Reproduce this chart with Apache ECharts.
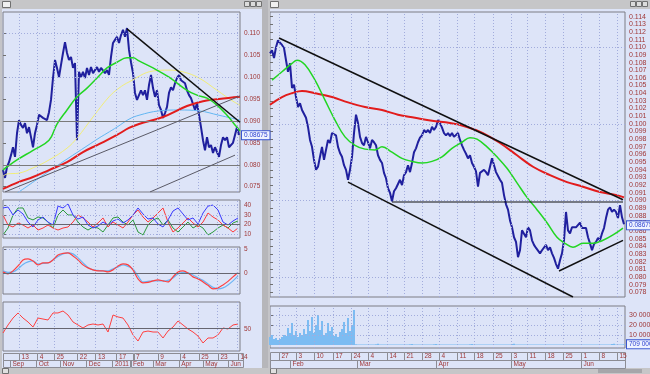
<!DOCTYPE html>
<html><head><meta charset="utf-8">
<script src="https://cdn.jsdelivr.net/npm/echarts@6/dist/echarts.min.js"></script>
<style>html,body{margin:0;padding:0;background:#dde4f8;overflow:hidden}#c{width:650px;height:374px}</style>
</head><body><div id="c"></div>
<script>
// ---------------- DATA ----------------
// Left window (daily), x = sample index (one sample per ~1.7 trading days)
const leftClose = [0.0788,0.0770,0.0795,0.0806,0.0822,0.0840,0.0818,0.0872,0.0902,0.0891,
 0.0884,0.0895,0.0872,0.0886,0.0863,0.0840,0.0872,0.0891,0.0914,0.0918,
 0.0907,0.0909,0.0902,0.0920,0.0948,0.0998,0.1039,0.1021,0.1000,0.1028,
 0.1055,0.1080,0.1055,0.1039,0.1046,0.1021,0.1032,0.0856,0.1012,0.1000,
 0.1012,0.0998,0.1021,0.1005,0.1023,0.1009,0.1016,0.1023,0.1012,0.1021,
 0.1023,0.1009,0.1016,0.1005,0.1046,0.1078,0.1085,0.1092,0.1078,0.1096,
 0.1108,0.1092,0.1112,0.1062,0.1034,0.1009,0.0964,0.0948,0.0952,0.0970,
 0.0959,0.0970,0.0948,0.0982,0.1005,0.0975,0.0955,0.0970,0.0936,0.0925,
 0.0907,0.0918,0.0932,0.0964,0.0977,0.0970,0.0986,0.0998,0.1005,0.0993,
 0.0989,0.0986,0.0970,0.0959,0.0952,0.0948,0.0925,0.0941,0.0914,0.0886,
 0.0856,0.0833,0.0863,0.0840,0.0845,0.0827,0.0840,0.0829,0.0818,0.0845,
 0.0863,0.0856,0.0863,0.0840,0.0838,0.0850,0.0868,0.0886,0.0868];
const leftMAGreen = [[0,0.0788],[2,0.0795],[7,0.0811],[15,0.0833],[23,0.0856],[27,0.0893],[32,0.0925],[37,0.0955],[42,0.0975],[47,0.0998],[52,0.1021],[57,0.1034],[62,0.1044],[65,0.1044],[68,0.1037],[75,0.1021],[83,0.1000],[92,0.0970],[97,0.0959],[102,0.0952],[107,0.0936],[112,0.0913],[116,0.0891],[118.5,0.0877]];
const leftMAYellow = [[0,0.0774],[2,0.0779],[8,0.0781],[15,0.0793],[23,0.0811],[32,0.0838],[37,0.0861],[45,0.0909],[53,0.0955],[58,0.0975],[63,0.0989],[75,0.1014],[83,0.1016],[90,0.1012],[98,0.0998],[107,0.0970],[115,0.0945],[118.5,0.0936]];
const leftMACyan = [[7,0.0735],[20,0.0776],[32,0.0813],[42,0.0843],[48,0.0861],[52,0.0872],[57,0.0886],[63,0.0904],[68,0.0913],[78,0.0923],[88,0.0925],[98,0.0923],[108,0.0913],[118.5,0.0902]];
const leftMARed = [[0,0.0745],[8,0.0761],[15,0.0772],[23,0.0788],[32,0.0806],[40,0.0829],[48,0.0847],[57,0.0868],[63,0.0884],[68,0.0893],[80,0.0909],[92,0.0934],[100,0.0945],[108,0.0950],[118.5,0.0955]];
const leftTrendDown = [[62,0.1110],[118.5,0.0897]];
const leftTrendUp1 = [[1,0.0738],[118.5,0.0957]];
const leftTrendUp2 = [[73.5,0.0738],[116,0.0822]];
const leftLevels = [0.0901, 0.0760, 0.0755];
const lastClose = 0.08675;

// Left indicators: one value every 2.5 samples
const indStep = 2.5;
const adxBlue = [37.6,38.6,30.2,35.5,31.3,22.8,17.6,25.0,28.1,22.8,19.7,39.6,37.6,41.8,30.2,26.0,28.1,19.7,16.5,18.6,22.8,19.7,23.9,26.0,21.8,25.0,30.2,37.6,31.3,26.0,27.1,20.7,17.6,25.0,34.4,37.6,31.3,25.0,27.1,20.7,32.3,39.6,40.7,35.5,22.8,19.7,23.9,27.1];
const adxRed = [30.2,19.7,17.6,21.8,19.7,16.5,19.7,14.4,16.5,19.7,16.5,14.4,16.5,17.6,22.8,30.2,27.1,22.8,17.6,21.8,27.1,17.6,22.8,19.7,16.5,22.8,30.2,35.5,28.1,22.8,27.1,32.3,37.6,22.8,12.3,16.5,21.8,27.1,21.8,17.6,22.8,32.3,28.1,25.0,19.7,16.5,12.3,16.5];
const adxGreen = [9.2,16.5,30.2,37.6,37.6,27.1,25.0,28.1,27.1,22.8,16.5,30.2,35.5,30.2,30.2,22.8,17.6,14.4,17.6,16.5,12.3,19.7,27.1,28.1,22.8,19.7,25.0,12.3,9.2,19.7,25.0,27.1,19.7,25.0,16.5,12.3,17.6,22.8,16.5,19.7,16.5,9.2,12.3,16.5,19.7,16.5,21.8,23.9];
const macdMain = [0.21,-0.21,0.42,1.46,2.71,2.92,2.50,1.67,2.08,2.08,2.71,3.75,4.06,4.17,3.54,2.71,1.67,1.04,0.63,0.42,0.42,0.21,0.63,1.46,1.88,1.67,0.63,-1.25,-2.08,-1.98,-1.67,-1.46,-1.67,-1.88,-0.83,0.21,0.42,0,-0.83,-1.25,-1.88,-2.60,-3.33,-3.13,-2.50,-1.77,-0.83,0.10];
const macdSignal = [0.42,0.10,0.21,0.83,1.77,2.29,2.50,1.88,1.98,2.08,2.71,3.44,3.96,4.17,3.96,3.13,2.08,1.15,0.63,0.52,0.42,0.42,0.83,1.25,1.67,1.35,0.83,-0.63,-1.88,-1.77,-1.67,-1.67,-1.67,-1.56,-1.04,-0.21,0.10,0,-0.42,-1.04,-1.56,-2.29,-3.02,-3.33,-3.13,-2.50,-1.67,-0.63];
const rsi = [45.2,54.2,62.0,67.7,62.0,57.6,51.9,62.0,60.9,59.8,67.7,67.7,69.9,65.4,57.6,54.2,50.8,54.2,55.3,54.2,55.3,46.3,65.4,63.2,62.0,54.2,43.0,36.2,46.3,47.4,46.3,46.3,39.6,47.4,51.9,58.7,54.2,49.7,46.3,41.8,34.0,39.6,39.6,43.0,50.8,49.7,54.2,55.3];

// Left date axis
const leftWeekPos = [8,17,25.5,37,46,56.5,65,77,88,97.5,107,117];
const leftWeekLabels = ['13','4','25','22','13','17','7','9','4','25','23','14'];
const leftMonthPos = [3.5,16.5,28.5,41.5,54.5,63.5,74.5,87.5,99.5,112];
const leftMonthLabels = ['Sep','Oct','Nov','Dec','2011','Feb','Mar','Apr','May','Jun'];
const leftPriceTicks = [0.075,0.080,0.085,0.090,0.095,0.100,0.105,0.110];
const adxTicks = [10,20,30,40];
const macdTicks = [0,5];
const rsiTicks = [50];

// Right window (intraday), x = sample index
const rightClose = [0.1092,0.1096,0.1086,0.1100,0.1109,0.1107,0.1103,0.1099,0.1083,0.1068,
 0.1079,0.1047,0.1051,0.1035,0.1022,0.1027,0.1018,0.1018,0.1008,0.0996,
 0.0979,0.0970,0.0953,0.0940,0.0944,0.0957,0.0970,0.0953,0.0955,0.0979,
 0.0975,0.0988,0.0989,0.0985,0.0970,0.0962,0.0957,0.0946,0.0940,0.0927,
 0.0940,0.0957,0.0988,0.1012,0.1001,0.0983,0.0975,0.0972,0.0983,0.0976,
 0.0968,0.0979,0.0976,0.0972,0.0959,0.0953,0.0949,0.0936,0.0929,0.0916,
 0.0910,0.0899,0.0912,0.0916,0.0918,0.0927,0.0920,0.0933,0.0937,0.0946,
 0.0937,0.0949,0.0963,0.0968,0.0976,0.0982,0.0985,0.0992,0.0989,0.0992,
 0.0988,0.0996,0.0992,0.0996,0.1005,0.1001,0.0995,0.0988,0.0985,0.0988,
 0.0984,0.0988,0.0983,0.0985,0.0988,0.0979,0.0972,0.0966,0.0961,0.0955,
 0.0959,0.0949,0.0944,0.0938,0.0918,0.0936,0.0937,0.0940,0.0937,0.0933,
 0.0944,0.0955,0.0953,0.0937,0.0936,0.0927,0.0923,0.0907,0.0895,0.0888,
 0.0874,0.0865,0.0852,0.0846,0.0826,0.0835,0.0861,0.0861,0.0852,0.0865,
 0.0861,0.0848,0.0842,0.0838,0.0839,0.0831,0.0835,0.0833,0.0842,0.0835,
 0.0839,0.0831,0.0825,0.0817,0.0811,0.0822,0.0831,0.0848,0.0885,0.0861,
 0.0857,0.0865,0.0867,0.0865,0.0867,0.0871,0.0864,0.0865,0.0864,0.0852,
 0.0844,0.0835,0.0843,0.0846,0.0851,0.0848,0.0857,0.0864,0.0877,0.0888,
 0.0891,0.0885,0.0888,0.0885,0.0877,0.0894,0.0878,0.0869];
const rightMAGreen = [[1,0.1057],[6,0.1068],[11,0.1079],[13.5,0.1083],[17.5,0.1077],[22.5,0.1057],[27.5,0.1031],[32.5,0.1005],[37.5,0.0983],[42.5,0.0972],[47.5,0.0967],[52.5,0.0966],[56,0.0970],[61,0.0963],[66,0.0955],[71,0.0951],[76,0.0949],[81,0.0951],[86,0.0957],[91,0.0968],[96,0.0976],[100,0.0982],[103.5,0.0980],[108.5,0.0970],[113.5,0.0957],[118.5,0.0942],[123.5,0.0923],[128.5,0.0904],[133.5,0.0888],[138.5,0.0871],[143.5,0.0852],[147.5,0.0844],[151.5,0.0839],[156.5,0.0844],[161.5,0.0844],[166.5,0.0848],[171.5,0.0855],[176.5,0.0864]];
const rightMARed = [[0,0.1025],[6,0.1035],[11,0.1040],[16,0.1043],[22.5,0.1040],[31,0.1035],[39,0.1028],[47.5,0.1022],[56,0.1018],[64,0.1012],[72.5,0.1008],[81,0.1004],[90,0.1001],[98.5,0.0996],[106.5,0.0988],[115,0.0975],[123.5,0.0959],[131.5,0.0944],[140,0.0933],[148.5,0.0924],[156.5,0.0918],[165,0.0911],[173.5,0.0907],[177,0.0904]];
const rightTrendUpper = [[4.5,0.1112],[176.5,0.0901]];
const rightTrendLower = [[39,0.0924],[151.5,0.0774]];
const rightLevel = [[61,0.0898],[176.5,0.0898]];
const rightSupport = [[144.5,0.0808],[176.5,0.0848]];
// volume in millions
const rightVolume = [8,10,6,7,5,6,8,10,9,17,12,22,10,14,8,12,10,16,11,25,14,28,12,20,30,15,24,10,12,22,14,18,9,11,8,13,16,23,12,27,14,20,35,
 0.8,0.5,0.4,0.6,0.5,0.4,0.5,0.6,0.4,0.5,0.7,1.2,0.6,0.5,0.4,
 0.5,0.6,0.4,0.5,0.4,0.6,0.5,0.4,0.5,0.6,0.5,0.4,0.7,1.0,0.6,
 0.5,0.4,0.5,0.6,0.4,0.5,0.4,0.6,0.5,0.8,1.1,0.6,0.5,0.4,0.5,
 0.6,0.4,0.5,0.4,0.5,0.6,0.4,0.5,0.6,0.5,0.4,0.5,0.7,1.1,0.6,
 0.5,0.4,0.6,0.5,0.4,0.5,0.6,0.4,0.5,0.4,0.6,0.5,0.4,0.5,0.6,
 0.5,0.4,0.5,0.9,1.2,0.6,0.5,0.4,0.5,0.6,0.4,0.5,0.4,0.6,0.5,
 0.4,0.5,0.6,0.5,0.4,0.5,0.6,0.4,0.5,0.4,0.6,0.5,0.4,0.5,0.6,
 0.5,0.4,0.5,0.6,0.4,0.5,0.4,0.6,0.5,0.4,0.5,0.6,0.5,0.4,0.5,
 0.6,0.4,0.5,0.4,0.6,0.5,0.4,0.5,1.0,1.3,0.6,0.5,0.4,0.5,0.7];
const lastVolume = 0.709;
const rightWeekPos = [4.5,13,22,31.5,40.5,49,58.5,67,76,84.5,93.5,102,111.5,120.5,128.5,137.5,146.5,155.5,164.5,173.5];
const rightWeekLabels = ['27','3','10','17','24','4','14','21','28','4','11','18','25','3','11','18','25','1','8','15'];
const rightMonthPos = [10,43.5,83,120.5,155.5];
const rightMonthLabels = ['Feb','Mar','Apr','May','Jun'];
const rightPriceTicks = [0.078,0.079,0.080,0.081,0.082,0.083,0.084,0.085,0.086,0.087,0.088,0.089,0.090,0.091,0.092,0.093,0.094,0.095,0.096,0.097,0.098,0.099,0.100,0.101,0.102,0.103,0.104,0.105,0.106,0.107,0.108,0.109,0.110,0.111,0.112,0.113,0.114];
const volumeTicks = [10,20,30];

// ---------------- STYLE / LAYOUT ----------------
const LX = 118.5, RX = 177.5;
const LMIN = 0.07379, LMAX = 0.11486, RMIN = 0.0774, RMAX = 0.1146;
const LABEL_C = '#a03838', GRID_C = '#a2acdc', BORDER_C = '#7c7c84';
const FONT = 'Liberation Sans';

const leftHGrid = []; for (let k = 0; k <= 15; k++) leftHGrid.push(+(0.075 + k * 0.0025).toFixed(4));
const rightHGrid = []; for (let k = 0; k < 20; k++) rightHGrid.push(+(0.1128 - k * 0.0018).toFixed(4));

const pairs = arr => arr.map((v, i) => [i, v]);
const indPairs = arr => arr.map((v, k) => [k * indStep, v]);

function helper(xi, yMin, xMax, vx, hy, extra) {
  return { type: 'line', xAxisIndex: xi, yAxisIndex: xi, data: [[0, yMin], [xMax, yMin]],
    symbol: 'none', lineStyle: { opacity: 0 }, silent: true, z: 1,
    markLine: { silent: true, symbol: ['none', 'none'], animation: false, label: { show: false },
      lineStyle: { color: GRID_C, type: [1, 2], width: 1 },
      data: vx.map(v => ({ xAxis: v })).concat(hy.map(v => ({ yAxis: v }))).concat(extra || []) } };
}
function ln(xi, data, color, width, smooth, z) {
  return { type: 'line', xAxisIndex: xi, yAxisIndex: xi, data, symbol: 'none', showSymbol: false,
    smooth: smooth || false, lineStyle: { color, width }, z: z || 3, silent: true };
}
// current-value box on the right axis: a markLine with an invisible line and a boxed label
function valueBox(xi, v, text, xMax) {
  return { type: 'line', xAxisIndex: xi, yAxisIndex: xi, data: [[0, v], [xMax, v]], symbol: 'none',
    lineStyle: { color: 'rgba(0,0,0,0)', width: 0 }, silent: true, z: 20,
    endLabel: { show: true, distance: 2, formatter: text, color: '#2a3fd0', fontSize: 6.5, fontFamily: FONT,
      backgroundColor: '#eef2ff', borderColor: '#3a56d0', borderWidth: 1, padding: [1, 2, 0, 2] } };
}
function cells(pos, labels, xMax, row) {
  const out = [[0, pos[0], row, '']];
  for (let k = 0; k < pos.length; k++) out.push([pos[k], k + 1 < pos.length ? pos[k + 1] : xMax, row, labels[k]]);
  return out;
}
function dateSeries(xi, pos1, lab1, pos2, lab2, xMax) {
  const items = cells(pos1, lab1, xMax, 1).concat(cells(pos2, lab2, xMax, 0));
  return { type: 'custom', xAxisIndex: xi, yAxisIndex: xi, silent: true,
    data: items.map(c => [c[0], c[1], c[2]]), encode: { x: [0, 1], y: 2 },
    renderItem: function (params, api) {
      const s = api.value(0), e = api.value(1), r = api.value(2);
      const a = api.coord([s, r + 1]), b = api.coord([e, r]);
      return { type: 'group', children: [
        { type: 'rect', shape: { x: Math.round(a[0]) + 0.5, y: Math.round(a[1]) + 0.5, width: Math.round(b[0] - a[0]), height: Math.round(b[1] - a[1]) },
          style: { fill: 'transparent', stroke: '#8c8c94', lineWidth: 1 } },
        { type: 'text', style: { x: a[0] + 2.5, y: (a[1] + b[1]) / 2 + 0.5, text: items[params.dataIndex][3], fill: LABEL_C,
          fontSize: 6.5, fontFamily: FONT, verticalAlign: 'middle', align: 'left' } }
      ] };
    } };
}
function yAx(gi, min, max, ticks, fmt, fs) {
  return { type: 'value', gridIndex: gi, position: 'right', min, max, splitLine: { show: false },
    axisLine: { show: false },
    axisTick: { show: true, length: 3, customValues: ticks, lineStyle: { color: '#707070' } },
    axisLabel: { show: true, customValues: ticks, formatter: fmt, color: LABEL_C, fontSize: fs || 6.5, fontFamily: FONT, margin: 4 } };
}
const volFmt = v => String(Math.round(v * 1000000)).replace(/\B(?=(\d{3})+(?!\d))/g, ' ');
const gBase = { show: true, borderColor: BORDER_C, borderWidth: 1, backgroundColor: 'transparent', outerBoundsMode: 'none', containLabel: false };

const option = {
  animation: false,
  backgroundColor: '#dde4f8',
  grid: [
    Object.assign({ left: 3, top: 12, width: 237, height: 180 }, gBase),
    Object.assign({ left: 3, top: 200, width: 237, height: 38 }, gBase),
    Object.assign({ left: 3, top: 247, width: 237, height: 47 }, gBase),
    Object.assign({ left: 3, top: 302, width: 237, height: 49 }, gBase),
    Object.assign({}, gBase, { show: false, left: 3, top: 353, width: 238, height: 14 }),
    Object.assign({ left: 270, top: 12, width: 355, height: 285 }, gBase),
    Object.assign({ left: 270, top: 306, width: 355, height: 42 }, gBase),
    Object.assign({}, gBase, { show: false, left: 270, top: 352, width: 355, height: 15 })
  ],
  xAxis: [0, 1, 2, 3, 4, 5, 6, 7].map(g => ({ type: 'value', gridIndex: g, min: 0, max: g < 5 ? LX : RX, show: false })),
  yAxis: [
    yAx(0, LMIN, LMAX, leftPriceTicks, v => v.toFixed(3)),
    yAx(1, 6, 46, adxTicks, v => String(v)),
    yAx(2, -4.4, 5.4, macdTicks, v => String(v)),
    yAx(3, 25, 80, rsiTicks, v => String(v)),
    { type: 'value', gridIndex: 4, min: 0, max: 2, show: false },
    yAx(5, RMIN, RMAX, rightPriceTicks, v => v.toFixed(3), 7),
    yAx(6, -3, 39, volumeTicks, volFmt, 7),
    { type: 'value', gridIndex: 7, min: 0, max: 2, show: false }
  ],
  series: [
    // ---- left main
    helper(0, LMIN, LX, leftWeekPos, leftHGrid, leftLevels.map(v => ({ yAxis: v, lineStyle: { color: '#7a7a7a', type: 'solid', width: 1 } }))),
    ln(0, pairs(leftClose), '#20209e', 2, false, 3),
    ln(0, leftMAYellow, '#f2ee78', 1, 0.4, 4),
    ln(0, leftMACyan, '#62b6f2', 1, 0.4, 4),
    ln(0, leftMARed, '#e21c1c', 2, 0.4, 4),
    ln(0, leftMAGreen, '#22d622', 1.5, 0.4, 4),
    ln(0, leftTrendUp1, '#5a5a66', 1, false, 5),
    ln(0, leftTrendUp2, '#5a5a66', 1, false, 5),
    ln(0, leftTrendDown, '#101010', 1.5, false, 5),
    valueBox(0, lastClose, '0.08675', LX),
    // ---- left indicator A
    helper(1, 6, LX, leftWeekPos, [10, 30, 40], [{ yAxis: 20, lineStyle: { color: '#666670', type: 'solid', width: 1 } }]),
    ln(1, indPairs(adxGreen), '#2c9a3c', 1, false, 3),
    ln(1, indPairs(adxRed), '#ff3a3a', 1, false, 3),
    ln(1, indPairs(adxBlue), '#3a3aff', 1, false, 3),
    // ---- left indicator B
    helper(2, -4.4, LX, leftWeekPos, [5], [{ yAxis: 0, lineStyle: { color: '#666670', type: 'solid', width: 1 } }]),
    ln(2, indPairs(macdSignal), '#6cb4f4', 1.2, 0.3, 3),
    ln(2, indPairs(macdMain), '#ff4040', 1.2, 0.3, 3),
    // ---- left indicator C
    helper(3, 25, LX, leftWeekPos, [], [{ yAxis: 50, lineStyle: { color: '#666670', type: 'solid', width: 1 } }]),
    ln(3, indPairs(rsi), '#ff4040', 1, false, 3),
    // ---- left dates
    dateSeries(4, leftWeekPos, leftWeekLabels, leftMonthPos, leftMonthLabels, LX + 1),
    // ---- right main
    helper(5, RMIN, RX, rightWeekPos, rightHGrid, []),
    ln(5, pairs(rightClose), '#20209e', 2, false, 3),
    ln(5, rightMARed, '#e21c1c', 2, 0.4, 4),
    ln(5, rightMAGreen, '#22d622', 1.5, 0.4, 4),
    ln(5, rightTrendUpper, '#101010', 1.5, false, 5),
    ln(5, rightTrendLower, '#101010', 1.5, false, 5),
    ln(5, rightLevel, '#101010', 1.2, false, 5),
    ln(5, rightSupport, '#101010', 1.5, false, 5),
    valueBox(5, lastClose, '0.08675', RX),
    // ---- right volume
    helper(6, -3, RX, rightWeekPos, volumeTicks, []),
    { type: 'bar', xAxisIndex: 6, yAxisIndex: 6, data: pairs(rightVolume), barWidth: 2, silent: true, z: 3,
      itemStyle: { color: '#7cbcf2' } },
    valueBox(6, lastVolume, '709 000', RX),
    // ---- right dates
    dateSeries(7, rightWeekPos, rightWeekLabels, rightMonthPos, rightMonthLabels, RX)
  ],
  graphic: [
    { type: 'rect', shape: { x: 0, y: 0, width: 262, height: 9 }, style: { fill: '#c6c6c8' } },
    { type: 'rect', shape: { x: 2.5, y: 1.5, width: 8, height: 6 }, style: { fill: '#f0f0f0', stroke: '#707070' } },
    { type: 'rect', shape: { x: 244.5, y: 1.5, width: 5, height: 5 }, style: { fill: '#dcdcdc', stroke: '#707070' } },
    { type: 'rect', shape: { x: 250.5, y: 1.5, width: 5, height: 5 }, style: { fill: '#dcdcdc', stroke: '#707070' } },
    { type: 'rect', shape: { x: 256.5, y: 1.5, width: 5, height: 5 }, style: { fill: '#dcdcdc', stroke: '#707070' } },
    { type: 'rect', shape: { x: 268, y: 0, width: 382, height: 9 }, style: { fill: '#c6c6c8' } },
    { type: 'rect', shape: { x: 270.5, y: 1.5, width: 8, height: 6 }, style: { fill: '#f0f0f0', stroke: '#707070' } },
    { type: 'rect', shape: { x: 630.5, y: 1.5, width: 5, height: 5 }, style: { fill: '#dcdcdc', stroke: '#707070' } },
    { type: 'rect', shape: { x: 636.5, y: 1.5, width: 5, height: 5 }, style: { fill: '#dcdcdc', stroke: '#707070' } },
    { type: 'rect', shape: { x: 642.5, y: 1.5, width: 5, height: 5 }, style: { fill: '#dcdcdc', stroke: '#707070' } },
    { type: 'rect', shape: { x: 262, y: 0, width: 6, height: 374 }, style: { fill: '#b6b6ba' } },
    { type: 'rect', shape: { x: 268, y: 9, width: 2, height: 359 }, style: { fill: '#c4c4c8' } },
    { type: 'rect', shape: { x: 0, y: 9, width: 2, height: 359 }, style: { fill: '#c4c4c8' } },
    { type: 'rect', shape: { x: 0, y: 368, width: 650, height: 6 }, style: { fill: '#c6c6c8' } },
    { type: 'rect', shape: { x: 598, y: 369, width: 44, height: 4 }, style: { fill: '#a6a6aa' } },
    { type: 'rect', shape: { x: 2.5, y: 368.5, width: 6, height: 5 }, style: { fill: '#e0e0e0', stroke: '#707070' } },
    { type: 'rect', shape: { x: 270.5, y: 368.5, width: 6, height: 5 }, style: { fill: '#e0e0e0', stroke: '#707070' } }
  ]
};
const chart = echarts.init(document.getElementById('c'), null, { renderer: 'canvas' });
chart.setOption(option);
</script></body></html>
